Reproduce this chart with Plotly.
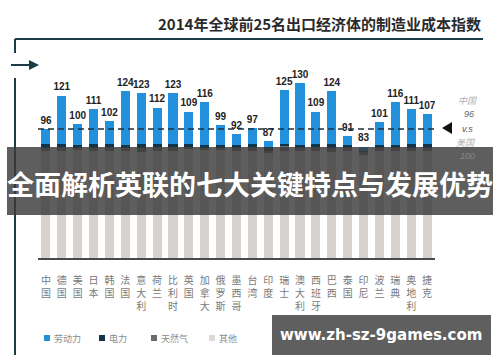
import plotly.graph_objects as go

countries = ["中国", "德国", "美国", "日本", "韩国", "法国", "意大利", "荷兰", "比利时", "英国",
             "加拿大", "俄罗斯", "墨西哥", "台湾", "印度", "瑞士", "澳大利亚", "西班牙", "巴西", "泰国",
             "印尼", "波兰", "瑞典", "奥地利", "捷克"]
totals = [96, 121, 100, 111, 102, 124, 123, 112, 123, 109, 116, 99, 92, 97, 87, 125, 130, 109, 124, 91,
          83, 101, 116, 111, 107]
other = [80, 80, 81, 80, 80, 80, 79, 80, 80, 81, 81, 81, 80, 80, 78, 80, 80, 80, 79, 80, 77, 80, 80, 80, 80]
gas = [2, 3, 1, 2, 3, 2, 3, 3, 3, 2, 1, 1, 2, 3, 2, 4, 2, 3, 3, 2, 2, 2, 2, 2, 2]
electricity = [3, 2, 2, 3, 2, 2, 3, 2, 2, 2, 2, 2, 2, 2, 3, 1, 2, 2, 3, 2, 1, 2, 2, 3, 3]
labor = [t - o - g - e for t, o, g, e in zip(totals, other, gas, electricity)]

W, H = 500, 362
L, R, T, B = 38, 65, 70, 104
PW, PH = W - L - R, H - T - B


def px(x):
    return (x - L) / PW


def py(y):
    return (H - B - y) / PH


xs = list(range(len(countries)))
ticktext = ["<br>".join(list(c)) for c in countries]

C_LABOR = "#2390dc"
C_ELEC = "#10344a"
C_GAS = "#6e6a68"
C_OTHER = "#d7d2ce"

fig = go.Figure()
fig.add_bar(x=xs, y=other, marker_color=C_OTHER, name="其他", marker_line_width=0)
fig.add_bar(x=xs, y=gas, marker_color=C_GAS, name="天然气", marker_line_width=0)
fig.add_bar(x=xs, y=electricity, marker_color=C_ELEC, name="电力", marker_line_width=0)
fig.add_bar(x=xs, y=labor, marker_color=C_LABOR, name="劳动力", marker_line_width=0)
fig.add_scatter(x=xs, y=[t + 2 for t in totals], mode="text", text=[str(v) for v in totals],
                texttemplate="<b>%{text}</b>", textposition="top center",
                textfont=dict(size=10, color="#222222", family="Liberation Sans"),
                showlegend=False, hoverinfo="skip")

shapes = []
line_col = "#1d3c4a"
shapes.append(dict(type="line", xref="x", yref="y", x0=-0.5, x1=24.65, y0=96, y1=96,
                   line=dict(color="#1a3040", width=1.5, dash="6px,4px"), layer="above"))
shapes.append(dict(type="path", xref="paper", yref="paper",
                   path=f"M {px(442)},{py(128)} L {px(452)},{py(122)} L {px(452)},{py(134)} Z",
                   fillcolor="#111111", line=dict(width=0)))
shapes.append(dict(type="line", xref="paper", yref="paper", x0=px(15), x1=px(483), y0=py(39), y1=py(39),
                   line=dict(color=line_col, width=2)))
shapes.append(dict(type="line", xref="paper", yref="paper", x0=px(15), x1=px(15), y0=py(39), y1=py(53),
                   line=dict(color=line_col, width=2)))
shapes.append(dict(type="line", xref="paper", yref="paper", x0=px(15), x1=px(15), y0=py(78), y1=py(355),
                   line=dict(color=line_col, width=2)))
shapes.append(dict(type="line", xref="paper", yref="paper", x0=px(11), x1=px(31), y0=py(65), y1=py(65),
                   line=dict(color=line_col, width=2)))
shapes.append(dict(type="path", xref="paper", yref="paper",
                   path=f"M {px(39)},{py(65)} L {px(29)},{py(60)} L {px(29)},{py(70)} Z",
                   fillcolor=line_col, line=dict(width=0)))
leg = [(44, C_LABOR, "劳动力"), (99, C_ELEC, "电力"), (151, C_GAS, "天然气"), (209, "#dcd9d6", "其他")]
annotations = []
for x0, col, name in leg:
    shapes.append(dict(type="rect", xref="paper", yref="paper", x0=px(x0), x1=px(x0 + 6),
                       y0=py(335), y1=py(341), fillcolor=col, line=dict(width=0)))
    annotations.append(dict(xref="paper", yref="paper", x=px(x0 + 8), y=py(338), xanchor="left",
                            yanchor="middle", text=name, showarrow=False,
                            font=dict(size=9, color="#8a8a8a", family="Noto Sans CJK SC")))
shapes.append(dict(type="rect", xref="paper", yref="paper", x0=px(7), x1=px(493), y0=py(147), y1=py(215),
                   fillcolor="rgba(58,58,58,0.82)", line=dict(width=0), layer="above"))
shapes.append(dict(type="rect", xref="paper", yref="paper", x0=px(272), x1=px(491), y0=py(315), y1=py(355),
                   fillcolor="#5f5f5f", line=dict(width=0), layer="above"))


def ann(x, y, text, size, color, family, xanchor="center"):
    return dict(xref="paper", yref="paper", x=px(x), y=py(y), xanchor=xanchor, yanchor="middle",
                text=text, showarrow=False, font=dict(size=size, color=color, family=family))


annotations += [
    ann(483, 23, "<b>2014年全球前25名出口经济体的制造业成本指数</b>", 15, "#2a2a2a", "Noto Sans CJK SC",
        xanchor="right"),
    ann(468, 100, "<i>中国</i>", 9, "#b0b0b0", "Noto Sans CJK SC"),
    ann(469, 114, "<i>96</i>", 9, "#666666", "Liberation Sans"),
    ann(467, 129, "<i>v.s</i>", 9, "#555555", "Liberation Sans"),
    ann(466, 142, "<i>美国</i>", 9, "#b0b0b0", "Noto Sans CJK SC"),
    ann(467, 156, "<i>100</i>", 9, "#888888", "Liberation Sans"),
    ann(250, 183, "<b>全面解析英联的七大关键特点与发展优势</b>", 27, "#ffffff", "Noto Sans CJK SC"),
    ann(381, 335, "<b>www.zh-sz-9games.com</b>", 15, "#ffffff", "DejaVu Sans"),
]

fig.update_layout(
    width=W, height=H, margin=dict(l=L, r=R, t=T, b=B),
    paper_bgcolor="white", plot_bgcolor="white",
    barmode="stack", bargap=0.43, showlegend=False,
    shapes=shapes, annotations=annotations,
    xaxis=dict(range=[-0.5, 24.5], tickmode="array", tickvals=xs, ticktext=ticktext,
               showgrid=False, zeroline=False, showline=True, linecolor="#4a4a4a", linewidth=1.5,
               ticks="outside", ticklen=12, tickcolor="rgba(0,0,0,0)",
               tickfont=dict(size=10, color="#7a7a7a", family="Noto Sans CJK SC"), tickangle=0),
    yaxis=dict(range=[0, 140], visible=False, showgrid=False),
)

fig.write_html("out.html", config={"displayModeBar": False},
               post_script="document.body.style.margin='0';document.body.style.overflow='hidden';")
